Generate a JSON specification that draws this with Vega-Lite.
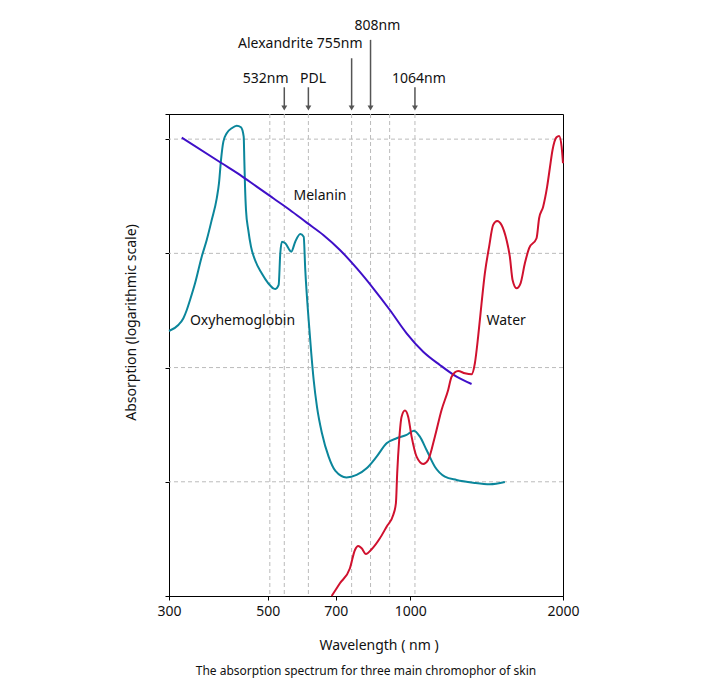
{
  "$schema": "https://vega.github.io/schema/vega-lite/v6.json",
  "autosize": {"type": "none"},
  "padding": {"left": 169, "top": 114, "right": 142, "bottom": 100},
  "width": 394,
  "height": 482,
  "title": {"text": "The absorption spectrum for three main chromophor of skin", "orient": "bottom", "anchor": "middle", "frame": "group", "fontSize": 12, "fontWeight": "normal", "font": "Noto Sans", "color": "#111", "offset": 14},
  "config": {
    "view": {"stroke": "black", "strokeWidth": 1},
    "font": "Noto Sans",
    "axis": {"domainColor": "black", "tickColor": "black", "labelColor": "#111", "titleColor": "#111", "labelFont": "Noto Sans", "titleFont": "Noto Sans", "labelFontSize": 14, "titleFontSize": 14, "titleFontWeight": "normal", "tickSize": 4, "grid": false}
  },
  "datasets": {
    "curves": [
      {"series": "Oxyhemoglobin", "wl": 300, "a": 2.32},
      {"series": "Oxyhemoglobin", "wl": 315.2, "a": 2.373},
      {"series": "Oxyhemoglobin", "wl": 323.7, "a": 2.432},
      {"series": "Oxyhemoglobin", "wl": 329.5, "a": 2.504},
      {"series": "Oxyhemoglobin", "wl": 335.2, "a": 2.592},
      {"series": "Oxyhemoglobin", "wl": 344.1, "a": 2.738},
      {"series": "Oxyhemoglobin", "wl": 356.3, "a": 2.971},
      {"series": "Oxyhemoglobin", "wl": 365.7, "a": 3.117},
      {"series": "Oxyhemoglobin", "wl": 375.3, "a": 3.292},
      {"series": "Oxyhemoglobin", "wl": 385.2, "a": 3.482},
      {"series": "Oxyhemoglobin", "wl": 389.7, "a": 3.614},
      {"series": "Oxyhemoglobin", "wl": 393.8, "a": 3.818},
      {"series": "Oxyhemoglobin", "wl": 398.6, "a": 3.978},
      {"series": "Oxyhemoglobin", "wl": 405.6, "a": 4.052},
      {"series": "Oxyhemoglobin", "wl": 416.1, "a": 4.095},
      {"series": "Oxyhemoglobin", "wl": 426.9, "a": 4.118},
      {"series": "Oxyhemoglobin", "wl": 436.3, "a": 4.104},
      {"series": "Oxyhemoglobin", "wl": 442.4, "a": 4.022},
      {"series": "Oxyhemoglobin", "wl": 443.8, "a": 3.818},
      {"series": "Oxyhemoglobin", "wl": 445.4, "a": 3.584},
      {"series": "Oxyhemoglobin", "wl": 447.6, "a": 3.38},
      {"series": "Oxyhemoglobin", "wl": 452.8, "a": 3.205},
      {"series": "Oxyhemoglobin", "wl": 459.1, "a": 3.059},
      {"series": "Oxyhemoglobin", "wl": 468.6, "a": 2.942},
      {"series": "Oxyhemoglobin", "wl": 484.7, "a": 2.826},
      {"series": "Oxyhemoglobin", "wl": 501.1, "a": 2.738},
      {"series": "Oxyhemoglobin", "wl": 513.9, "a": 2.694},
      {"series": "Oxyhemoglobin", "wl": 519.6, "a": 2.688},
      {"series": "Oxyhemoglobin", "wl": 527.9, "a": 2.723},
      {"series": "Oxyhemoglobin", "wl": 532.2, "a": 3.001},
      {"series": "Oxyhemoglobin", "wl": 536.8, "a": 3.102},
      {"series": "Oxyhemoglobin", "wl": 545.7, "a": 3.088},
      {"series": "Oxyhemoglobin", "wl": 562.2, "a": 3.015},
      {"series": "Oxyhemoglobin", "wl": 573.5, "a": 3.102},
      {"series": "Oxyhemoglobin", "wl": 587.9, "a": 3.17},
      {"series": "Oxyhemoglobin", "wl": 598, "a": 3.146},
      {"series": "Oxyhemoglobin", "wl": 602.7, "a": 2.855},
      {"series": "Oxyhemoglobin", "wl": 612.8, "a": 2.417},
      {"series": "Oxyhemoglobin", "wl": 620.8, "a": 2.125},
      {"series": "Oxyhemoglobin", "wl": 628.2, "a": 1.891},
      {"series": "Oxyhemoglobin", "wl": 638.4, "a": 1.658},
      {"series": "Oxyhemoglobin", "wl": 654.3, "a": 1.425},
      {"series": "Oxyhemoglobin", "wl": 676, "a": 1.22},
      {"series": "Oxyhemoglobin", "wl": 698.8, "a": 1.095},
      {"series": "Oxyhemoglobin", "wl": 737.3, "a": 1.038},
      {"series": "Oxyhemoglobin", "wl": 774.5, "a": 1.06},
      {"series": "Oxyhemoglobin", "wl": 812.6, "a": 1.118},
      {"series": "Oxyhemoglobin", "wl": 852.5, "a": 1.22},
      {"series": "Oxyhemoglobin", "wl": 894, "a": 1.337},
      {"series": "Oxyhemoglobin", "wl": 937.4, "a": 1.381},
      {"series": "Oxyhemoglobin", "wl": 982.7, "a": 1.41},
      {"series": "Oxyhemoglobin", "wl": 1017, "a": 1.447},
      {"series": "Oxyhemoglobin", "wl": 1045.9, "a": 1.395},
      {"series": "Oxyhemoglobin", "wl": 1079.1, "a": 1.278},
      {"series": "Oxyhemoglobin", "wl": 1121.6, "a": 1.132},
      {"series": "Oxyhemoglobin", "wl": 1174.9, "a": 1.045},
      {"series": "Oxyhemoglobin", "wl": 1240, "a": 1.016},
      {"series": "Oxyhemoglobin", "wl": 1338.1, "a": 0.992},
      {"series": "Oxyhemoglobin", "wl": 1443.4, "a": 0.978},
      {"series": "Oxyhemoglobin", "wl": 1544.8, "a": 0.998},
      {"series": "Melanin", "wl": 320.9, "a": 4.013},
      {"series": "Melanin", "wl": 395.3, "a": 3.789},
      {"series": "Melanin", "wl": 434.1, "a": 3.687},
      {"series": "Melanin", "wl": 472.6, "a": 3.584},
      {"series": "Melanin", "wl": 513.9, "a": 3.482},
      {"series": "Melanin", "wl": 558.5, "a": 3.38},
      {"series": "Melanin", "wl": 606.9, "a": 3.269},
      {"series": "Melanin", "wl": 658.5, "a": 3.161},
      {"series": "Melanin", "wl": 714.3, "a": 3.03},
      {"series": "Melanin", "wl": 774.5, "a": 2.87},
      {"series": "Melanin", "wl": 838.8, "a": 2.694},
      {"series": "Melanin", "wl": 908, "a": 2.504},
      {"series": "Melanin", "wl": 982.7, "a": 2.3},
      {"series": "Melanin", "wl": 1062.2, "a": 2.139},
      {"series": "Melanin", "wl": 1147.7, "a": 2.023},
      {"series": "Melanin", "wl": 1240, "a": 1.92},
      {"series": "Melanin", "wl": 1328.3, "a": 1.856},
      {"series": "Water", "wl": 686.1, "a": 0},
      {"series": "Water", "wl": 714.3, "a": 0.111},
      {"series": "Water", "wl": 749.8, "a": 0.243},
      {"series": "Water", "wl": 768.2, "a": 0.403},
      {"series": "Water", "wl": 780.4, "a": 0.438},
      {"series": "Water", "wl": 793.4, "a": 0.418},
      {"series": "Water", "wl": 810, "a": 0.368},
      {"series": "Water", "wl": 832.4, "a": 0.409},
      {"series": "Water", "wl": 865.9, "a": 0.505},
      {"series": "Water", "wl": 894, "a": 0.607},
      {"series": "Water", "wl": 922.5, "a": 0.709},
      {"series": "Water", "wl": 934.3, "a": 0.812},
      {"series": "Water", "wl": 940, "a": 1.074},
      {"series": "Water", "wl": 948.9, "a": 1.366},
      {"series": "Water", "wl": 959.8, "a": 1.57},
      {"series": "Water", "wl": 975, "a": 1.623},
      {"series": "Water", "wl": 990, "a": 1.57},
      {"series": "Water", "wl": 1006.1, "a": 1.395},
      {"series": "Water", "wl": 1029.9, "a": 1.22},
      {"series": "Water", "wl": 1062.2, "a": 1.156},
      {"series": "Water", "wl": 1087, "a": 1.191},
      {"series": "Water", "wl": 1121.6, "a": 1.395},
      {"series": "Water", "wl": 1157, "a": 1.629},
      {"series": "Water", "wl": 1192.9, "a": 1.804},
      {"series": "Water", "wl": 1211.9, "a": 1.92},
      {"series": "Water", "wl": 1249, "a": 1.97},
      {"series": "Water", "wl": 1288.2, "a": 1.95},
      {"series": "Water", "wl": 1328.3, "a": 1.941},
      {"series": "Water", "wl": 1348.5, "a": 2.038},
      {"series": "Water", "wl": 1368.7, "a": 2.271},
      {"series": "Water", "wl": 1390.2, "a": 2.563},
      {"series": "Water", "wl": 1411.3, "a": 2.826},
      {"series": "Water", "wl": 1438.8, "a": 3.059},
      {"series": "Water", "wl": 1465.3, "a": 3.249},
      {"series": "Water", "wl": 1491.9, "a": 3.284},
      {"series": "Water", "wl": 1521.9, "a": 3.249},
      {"series": "Water", "wl": 1556.6, "a": 3.117},
      {"series": "Water", "wl": 1579.7, "a": 2.971},
      {"series": "Water", "wl": 1599.2, "a": 2.767},
      {"series": "Water", "wl": 1628, "a": 2.694},
      {"series": "Water", "wl": 1657.4, "a": 2.738},
      {"series": "Water", "wl": 1689.6, "a": 2.913},
      {"series": "Water", "wl": 1722, "a": 3.045},
      {"series": "Water", "wl": 1779.7, "a": 3.132},
      {"series": "Water", "wl": 1800.1, "a": 3.307},
      {"series": "Water", "wl": 1832.6, "a": 3.409},
      {"series": "Water", "wl": 1865.1, "a": 3.584},
      {"series": "Water", "wl": 1887.3, "a": 3.745},
      {"series": "Water", "wl": 1910, "a": 3.905},
      {"series": "Water", "wl": 1943.8, "a": 4.017},
      {"series": "Water", "wl": 1966, "a": 4.028},
      {"series": "Water", "wl": 1987.8, "a": 3.934},
      {"series": "Water", "wl": 2000, "a": 3.789}
    ],
    "vgrid": [{"wl": 505}, {"wl": 543}, {"wl": 612}, {"wl": 756}, {"wl": 828}, {"wl": 907}, {"wl": 1022}],
    "hgrid": [{"a": 1}, {"a": 2}, {"a": 3}, {"a": 4}],
    "labels": [
      {"text": "Melanin", "wl": 647.8, "a": 3.505},
      {"text": "Oxyhemoglobin", "wl": 439.7, "a": 2.408},
      {"text": "Water", "wl": 1553.8, "a": 2.411}
    ],
    "arrows": [
      {"laser": "532nm", "wl": 543, "a": 4.454, "a2": 4.29},
      {"laser": "PDL", "wl": 612, "a": 4.454, "a2": 4.29},
      {"laser": "Alexandrite 755nm", "wl": 756, "a": 4.708, "a2": 4.29},
      {"laser": "808nm", "wl": 828, "a": 4.869, "a2": 4.29},
      {"laser": "1064nm", "wl": 1022, "a": 4.454, "a2": 4.29}
    ],
    "arrowLabels": [
      {"text": "532nm", "wl": 494.6, "a": 4.524},
      {"text": "PDL", "wl": 626, "a": 4.524},
      {"text": "Alexandrite 755nm", "wl": 587.9, "a": 4.831},
      {"text": "808nm", "wl": 855.7, "a": 4.994},
      {"text": "1064nm", "wl": 1040.9, "a": 4.524}
    ]
  },
  "layer": [
    {
      "data": {"name": "hgrid"},
      "mark": {"type": "rule", "color": "#bbbbbb", "strokeDash": [4, 3], "strokeWidth": 1},
      "encoding": {
        "y": {"field": "a", "type": "quantitative", "scale": {"domain": [0, 4.22], "nice": false, "zero": false},
          "axis": {"values": [0, 1, 2, 3, 4, 4.22], "labels": false, "title": "Absorption (logarithmic scale)", "titleX": -38, "titleY": 208, "titleBaseline": "middle", "titleAlign": "center"}}
      }
    },
    {
      "data": {"name": "vgrid"},
      "mark": {"type": "rule", "color": "#bbbbbb", "strokeDash": [4, 3], "strokeWidth": 1},
      "encoding": {
        "x": {"field": "wl", "type": "quantitative", "scale": {"type": "pow", "exponent": 0.1, "domain": [300, 2000], "nice": false, "zero": false},
          "axis": {"values": [300, 500, 700, 1000, 2000], "format": "d", "title": "Wavelength ( nm )", "labelPadding": 4, "titleX": 209.5, "titleY": 49, "titleBaseline": "middle", "titleAlign": "center", "labelFlush": false}}
      }
    },
    {
      "data": {"name": "curves"},
      "mark": {"type": "line", "interpolate": "monotone", "strokeWidth": 2},
      "encoding": {
        "x": {"field": "wl", "type": "quantitative", "scale": {"type": "pow", "exponent": 0.1, "domain": [300, 2000], "nice": false, "zero": false}},
        "y": {"field": "a", "type": "quantitative", "scale": {"domain": [0, 4.22], "nice": false, "zero": false}},
        "color": {"field": "series", "type": "nominal", "scale": {"domain": ["Oxyhemoglobin", "Melanin", "Water"], "range": ["#0b869b", "#3f0fc8", "#d0112e"]}, "legend": null}
      }
    },
    {
      "data": {"name": "labels"},
      "mark": {"type": "text", "fontSize": 14, "font": "Noto Sans", "color": "#111", "align": "center", "baseline": "middle"},
      "encoding": {
        "x": {"field": "wl", "type": "quantitative", "scale": {"type": "pow", "exponent": 0.1, "domain": [300, 2000], "nice": false, "zero": false}},
        "y": {"field": "a", "type": "quantitative", "scale": {"domain": [0, 4.22], "nice": false, "zero": false}},
        "text": {"field": "text"}
      }
    },
    {
      "data": {"name": "arrows"},
      "mark": {"type": "rule", "color": "#555555", "strokeWidth": 1.5},
      "encoding": {
        "x": {"field": "wl", "type": "quantitative", "scale": {"type": "pow", "exponent": 0.1, "domain": [300, 2000], "nice": false, "zero": false}},
        "y": {"field": "a", "type": "quantitative", "scale": {"domain": [0, 4.22], "nice": false, "zero": false}},
        "y2": {"field": "a2"}
      }
    },
    {
      "data": {"name": "arrows"},
      "mark": {"type": "point", "shape": "triangle-down", "filled": true, "size": 35, "color": "#555555", "opacity": 1, "yOffset": -6},
      "encoding": {
        "x": {"field": "wl", "type": "quantitative", "scale": {"type": "pow", "exponent": 0.1, "domain": [300, 2000], "nice": false, "zero": false}},
        "y": {"datum": 4.22, "type": "quantitative", "scale": {"domain": [0, 4.22], "nice": false, "zero": false}}
      }
    },
    {
      "data": {"name": "arrowLabels"},
      "mark": {"type": "text", "fontSize": 14, "font": "Noto Sans", "color": "#111", "align": "center", "baseline": "middle"},
      "encoding": {
        "x": {"field": "wl", "type": "quantitative", "scale": {"type": "pow", "exponent": 0.1, "domain": [300, 2000], "nice": false, "zero": false}},
        "y": {"field": "a", "type": "quantitative", "scale": {"domain": [0, 4.22], "nice": false, "zero": false}},
        "text": {"field": "text"}
      }
    }
  ]
}
